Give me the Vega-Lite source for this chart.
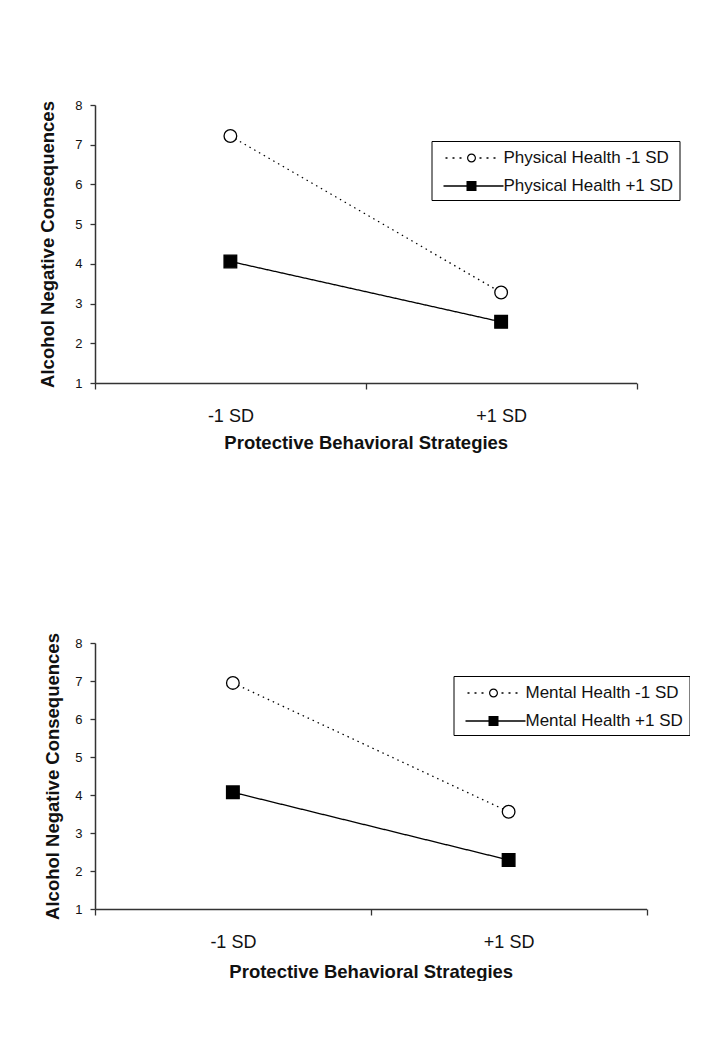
{
  "$schema": "https://vega.github.io/schema/vega-lite/v6.json",
  "background": "white",
  "padding": {"left": 38, "top": 99, "right": 0, "bottom": 0},
  "spacing": 180,
  "resolve": {
    "scale": {"shape": "independent", "fill": "independent", "strokeDash": "independent"},
    "legend": {"shape": "independent", "fill": "independent", "strokeDash": "independent"}
  },
  "config": {
    "font": "Liberation Sans",
    "view": {"stroke": null},
    "axis": {
      "labelFont": "Liberation Sans",
      "titleFont": "Liberation Sans",
      "labelColor": "#111",
      "titleColor": "#111",
      "domainColor": "#333",
      "tickColor": "#333",
      "domainWidth": 1.5,
      "tickWidth": 1.3,
      "grid": false
    },
    "legend": {
      "labelFont": "Liberation Sans",
      "labelColor": "#111"
    }
  },
  "datasets": {
    "physical": [
      {"pbs": "-1 SD", "health": "Physical Health -1 SD", "value": 7.22},
      {"pbs": "+1 SD", "health": "Physical Health -1 SD", "value": 3.28},
      {"pbs": "-1 SD", "health": "Physical Health +1 SD", "value": 4.06},
      {"pbs": "+1 SD", "health": "Physical Health +1 SD", "value": 2.54}
    ],
    "mental": [
      {"pbs": "-1 SD", "health": "Mental Health -1 SD", "value": 6.95},
      {"pbs": "+1 SD", "health": "Mental Health -1 SD", "value": 3.56},
      {"pbs": "-1 SD", "health": "Mental Health +1 SD", "value": 4.07},
      {"pbs": "+1 SD", "health": "Mental Health +1 SD", "value": 2.29}
    ]
  },
  "vconcat": [
    {
      "width": 541.5,
      "height": 278,
      "data": {"name": "physical"},
      "encoding": {
        "x": {
          "field": "pbs", "type": "nominal", "sort": ["-1 SD", "+1 SD"],
          "scale": {"type": "band", "paddingInner": 0, "paddingOuter": 0},
          "axis": {"title": "Protective Behavioral Strategies", "labelAngle": 0, "tickBand": "extent",
                   "tickSize": 6, "labelFontSize": 18, "labelPadding": 18,
                   "titleFontSize": 18.5, "titleFontWeight": "bold", "titlePadding": 8}
        },
        "y": {
          "field": "value", "type": "quantitative",
          "scale": {"domain": [1, 8], "nice": false, "zero": false},
          "axis": {"title": "Alcohol Negative Consequences", "values": [1, 2, 3, 4, 5, 6, 7, 8],
                   "tickSize": 5, "labelFontSize": 13, "labelPadding": 8,
                   "titleFontSize": 18.5, "titleFontWeight": "bold", "titlePadding": 17.5}
        }
      },
      "layer": [
        {
          "mark": {"type": "line", "color": "black", "strokeWidth": 1.3},
          "encoding": {
            "detail": {"field": "health", "type": "nominal"},
            "strokeDash": {"condition": {"test": "datum.health === 'Physical Health -1 SD'", "value": [1.5, 4]}, "value": [1, 0]}
          }
        },
        {
          "mark": {"type": "point", "filled": false, "stroke": "black", "strokeWidth": 1.3, "opacity": 1, "size": 160},
          "encoding": {
            "fill": {"condition": {"test": "datum.health === 'Physical Health -1 SD'", "value": "white"}, "value": "black"},
            "shape": {"condition": {"test": "datum.health === 'Physical Health -1 SD'", "value": "circle"}, "value": "square"}
          }
        },
        {
          "mark": {"type": "point", "filled": false, "stroke": "black", "strokeWidth": 1.2, "opacity": 0},
          "encoding": {
            "shape": {"field": "health", "type": "nominal",
                      "scale": {"domain": ["Physical Health -1 SD", "Physical Health +1 SD"],
                                "range": ["M-0.3,-0.075H-0.1V0.075H-0.3ZM0.4,-0.075H0.6V0.075H0.4ZM1.1,-0.075H1.3V0.075H1.1ZM3.1,-0.075H3.3V0.075H3.1ZM3.8,-0.075H4V0.075H3.8ZM4.5,-0.075H4.7V0.075H4.5ZM2.75,0A0.45,0.45,0,1,1,1.85,0A0.45,0.45,0,1,1,2.75,0ZM2.63,0A0.33,0.33,0,1,0,1.97,0A0.33,0.33,0,1,0,2.63,0Z", "M-0.5,-0.065H5.5V0.065H-0.5ZM1.8,-0.5H2.8V0.5H1.8Z"]},
                      "legend": {
                        "title": null, "orient": "none", "legendX": 336.5, "legendY": 36,
                        "symbolSize": 400, "symbolOpacity": 1, "symbolStrokeColor": "black", "symbolStrokeWidth": 1.2,
                        "labelFontSize": 17, "labelOffset": 44, "labelLimit": 300,
                        "padding": 6, "rowPadding": 9, "strokeColor": "black", "fillColor": "white"
                      }},
            "fill": {"field": "health", "type": "nominal",
                     "scale": {"domain": ["Physical Health -1 SD", "Physical Health +1 SD"], "range": ["black", "black"]}},
            "strokeDash": {"field": "health", "type": "nominal",
                           "scale": {"domain": ["Physical Health -1 SD", "Physical Health +1 SD"], "range": [[1.5, 3], [1, 0]]}}
          }
        }
      ]
    },
    {
      "width": 551.5,
      "height": 266,
      "data": {"name": "mental"},
      "encoding": {
        "x": {
          "field": "pbs", "type": "nominal", "sort": ["-1 SD", "+1 SD"],
          "scale": {"type": "band", "paddingInner": 0, "paddingOuter": 0},
          "axis": {"title": "Protective Behavioral Strategies", "labelAngle": 0, "tickBand": "extent",
                   "tickSize": 6, "labelFontSize": 18, "labelPadding": 18,
                   "titleFontSize": 18.5, "titleFontWeight": "bold", "titlePadding": 11}
        },
        "y": {
          "field": "value", "type": "quantitative",
          "scale": {"domain": [1, 8], "nice": false, "zero": false},
          "axis": {"title": "Alcohol Negative Consequences", "values": [1, 2, 3, 4, 5, 6, 7, 8],
                   "tickSize": 5, "labelFontSize": 13, "labelPadding": 8,
                   "titleFontSize": 18.5, "titleFontWeight": "bold", "titlePadding": 12}
        }
      },
      "layer": [
        {
          "mark": {"type": "line", "color": "black", "strokeWidth": 1.3},
          "encoding": {
            "detail": {"field": "health", "type": "nominal"},
            "strokeDash": {"condition": {"test": "datum.health === 'Mental Health -1 SD'", "value": [1.5, 4]}, "value": [1, 0]}
          }
        },
        {
          "mark": {"type": "point", "filled": false, "stroke": "black", "strokeWidth": 1.3, "opacity": 1, "size": 160},
          "encoding": {
            "fill": {"condition": {"test": "datum.health === 'Mental Health -1 SD'", "value": "white"}, "value": "black"},
            "shape": {"condition": {"test": "datum.health === 'Mental Health -1 SD'", "value": "circle"}, "value": "square"}
          }
        },
        {
          "mark": {"type": "point", "filled": false, "stroke": "black", "strokeWidth": 1.2, "opacity": 0},
          "encoding": {
            "shape": {"field": "health", "type": "nominal",
                      "scale": {"domain": ["Mental Health -1 SD", "Mental Health +1 SD"],
                                "range": ["M-0.3,-0.075H-0.1V0.075H-0.3ZM0.4,-0.075H0.6V0.075H0.4ZM1.1,-0.075H1.3V0.075H1.1ZM3.1,-0.075H3.3V0.075H3.1ZM3.8,-0.075H4V0.075H3.8ZM4.5,-0.075H4.7V0.075H4.5ZM2.75,0A0.45,0.45,0,1,1,1.85,0A0.45,0.45,0,1,1,2.75,0ZM2.63,0A0.33,0.33,0,1,0,1.97,0A0.33,0.33,0,1,0,2.63,0Z", "M-0.5,-0.065H5.5V0.065H-0.5ZM1.8,-0.5H2.8V0.5H1.8Z"]},
                      "legend": {
                        "title": null, "orient": "none", "legendX": 358.5, "legendY": 33,
                        "symbolSize": 400, "symbolOpacity": 1, "symbolStrokeColor": "black", "symbolStrokeWidth": 1.2,
                        "labelFontSize": 17, "labelOffset": 44, "labelLimit": 300,
                        "padding": 6, "rowPadding": 9, "strokeColor": "black", "fillColor": "white"
                      }},
            "fill": {"field": "health", "type": "nominal",
                     "scale": {"domain": ["Mental Health -1 SD", "Mental Health +1 SD"], "range": ["black", "black"]}},
            "strokeDash": {"field": "health", "type": "nominal",
                           "scale": {"domain": ["Mental Health -1 SD", "Mental Health +1 SD"], "range": [[1.5, 3], [1, 0]]}}
          }
        }
      ]
    }
  ]
}
